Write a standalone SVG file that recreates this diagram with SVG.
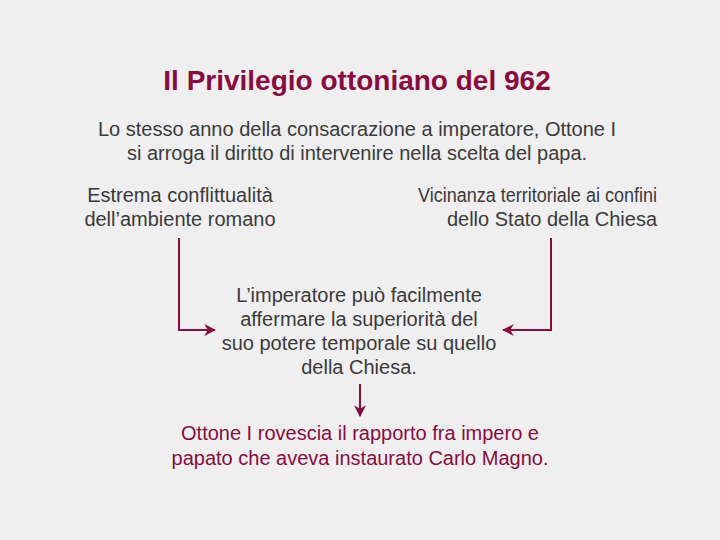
<svg xmlns="http://www.w3.org/2000/svg" width="720" height="540" viewBox="0 0 720 540">
<style>
.t{font-family:"Liberation Sans",Arial,sans-serif;font-size:20px;fill:#3a3a3a;text-anchor:middle}
.r{fill:#8a0b3e}
.title{font-family:"Liberation Sans",Arial,sans-serif;font-size:28px;font-weight:bold;fill:#8a0b3e;text-anchor:middle}
.c{fill:none;stroke:#8a0b3e;stroke-width:2}
</style>
<defs>
<marker id="ah" viewBox="0 0 10 10" refX="9" refY="5" markerWidth="6" markerHeight="6" orient="auto" markerUnits="strokeWidth">
<path d="M0,0 L10,5 L0,10 L3,5 Z" fill="#8a0b3e"/>
</marker>
</defs>
<rect width="720" height="540" fill="#efefef"/>
<g id="title"><text class="title" x="357" y="90">Il Privilegio ottoniano del 962</text></g>
<g id="intro"><text class="t" x="357" y="136">Lo stesso anno della consacrazione a imperatore, Ottone I</text><text class="t" x="357" y="160">si arroga il diritto di intervenire nella scelta del papa.</text></g>
<g id="left"><text class="t" x="180" y="202">Estrema conflittualità</text><text class="t" x="180" y="226">dell’ambiente romano</text></g>
<g id="right"><text class="t" x="537.5" y="202" textLength="239" lengthAdjust="spacingAndGlyphs">Vicinanza territoriale ai confini</text><text class="t" x="552" y="226">dello Stato della Chiesa</text></g>
<g id="center"><text class="t" x="359" y="302">L’imperatore può facilmente</text><text class="t" x="359" y="326">affermare la superiorità del</text><text class="t" x="359" y="350">suo potere temporale su quello</text><text class="t" x="359" y="374">della Chiesa.</text></g>
<g id="result"><text class="t r" x="360" y="440">Ottone I rovescia il rapporto fra impero e</text><text class="t r" x="360" y="465">papato che aveva instaurato Carlo Magno.</text></g>
<g id="connectors">
<path class="c" d="M179,238 V330 H215" marker-end="url(#ah)"/>
<path class="c" d="M551,238 V330 H503" marker-end="url(#ah)"/>
<path class="c" d="M360,384 V416" marker-end="url(#ah)"/>
</g>
</svg>
